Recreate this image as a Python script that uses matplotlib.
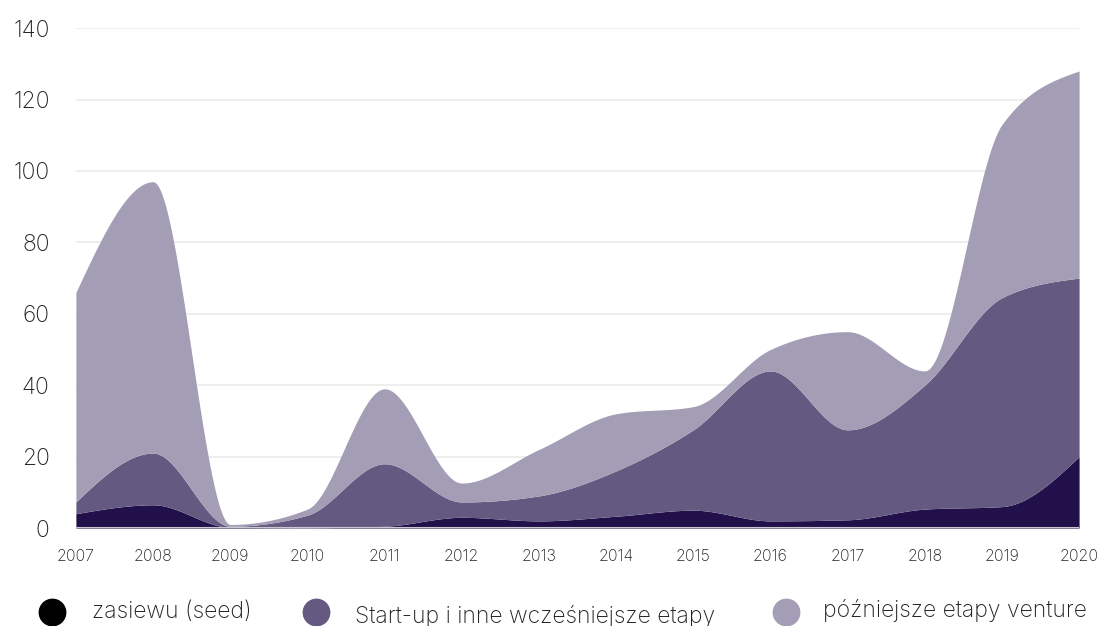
import numpy as np
import matplotlib.pyplot as plt
from matplotlib.lines import Line2D

plt.rcParams['font.family'] = ['Inter', 'DejaVu Sans']
plt.rcParams['font.weight'] = 'light'

years = list(range(2007, 2021))
seed = [4, 6.5, 0.2, 0.1, 0.5, 3, 2, 3.3, 5, 2, 2.3, 5.3, 6, 20]
startup = [3.3, 14.5, 0.3, 3.5, 17.5, 4.3, 7, 12.7, 22.5, 42, 25.2, 34.7, 58.5, 50]
later = [58.7, 76, 0.5, 1.7, 21, 5.3, 13, 16, 6.5, 6, 27.5, 4, 48.5, 58]

labels = ['zasiewu (seed)', 'Start-up i inne wcześniejsze etapy', 'późniejsze etapy venture']
colors = ['#21104a', '#645a81', '#a39eb5']
legend_colors = ['#000000', '#645a81', '#a39eb5']


def monotone(x, y, n=40):
    # monotone cubic (same rule as d3.curveMonotoneX)
    x = np.asarray(x, float)
    y = np.asarray(y, float)
    h = np.diff(x)
    s = np.diff(y) / h
    m = np.zeros_like(y)
    for i in range(1, len(y) - 1):
        p = (s[i - 1] * h[i] + s[i] * h[i - 1]) / (h[i - 1] + h[i])
        m[i] = (np.sign(s[i - 1]) + np.sign(s[i])) * min(abs(s[i - 1]), abs(s[i]), 0.5 * abs(p))
    m[0] = (3 * s[0] - m[1]) / 2
    m[-1] = (3 * s[-1] - m[-2]) / 2
    xs, ys = [], []
    for i in range(len(h)):
        t = np.linspace(0, 1, n, endpoint=False)
        h00 = 2 * t**3 - 3 * t**2 + 1
        h10 = t**3 - 2 * t**2 + t
        h01 = -2 * t**3 + 3 * t**2
        h11 = t**3 - t**2
        xs.append(x[i] + t * h[i])
        ys.append(h00 * y[i] + h10 * h[i] * m[i] + h01 * y[i + 1] + h11 * h[i] * m[i + 1])
    xs.append([x[-1]])
    ys.append([y[-1]])
    return np.concatenate(xs), np.concatenate(ys)


fig = plt.figure(figsize=(11, 6.26), dpi=100)
ax = fig.add_axes([0.069, 0.1565, 0.912, 0.7985])

bottom = np.zeros(len(years))
prev = None
for vals, c in zip([seed, startup, later], colors):
    top = bottom + np.array(vals)
    xs, yt = monotone(years, top)
    if prev is None:
        yb = np.zeros_like(yt)
    else:
        yb = prev
    ax.fill_between(xs, yb, yt, color=c, linewidth=0, zorder=2)
    prev = yt
    bottom = top

ax.set_xlim(2007, 2020)
ax.set_ylim(0, 140)
ax.set_yticks(range(0, 141, 20))
ax.set_xticks(years)
ax.grid(axis='y', color='#ebebeb', linewidth=1.2, zorder=0)
ax.axhline(0, color='#c9c7d2', linewidth=1.5, zorder=3)
for sp in ax.spines.values():
    sp.set_visible(False)
ax.tick_params(axis='y', length=0, pad=19, labelsize=16.5, labelcolor='#222222')
ax.tick_params(axis='x', length=0, pad=15, labelsize=11.5, labelcolor='#222222')

# legend along the bottom edge
marker_x = [52, 316, 786]
text_x = [92, 355, 823]
text_y = [612, 616, 611]
for i in range(3):
    fig.add_artist(Line2D([marker_x[i] / 1100], [1 - 612 / 626], marker='o', markersize=19,
                          color=legend_colors[i], linestyle='none', transform=fig.transFigure))
    fig.text(text_x[i] / 1100, 1 - text_y[i] / 626, labels[i], fontsize=16.5,
             color='#222222', va='center', ha='left')

plt.savefig('out.png', dpi=100)
